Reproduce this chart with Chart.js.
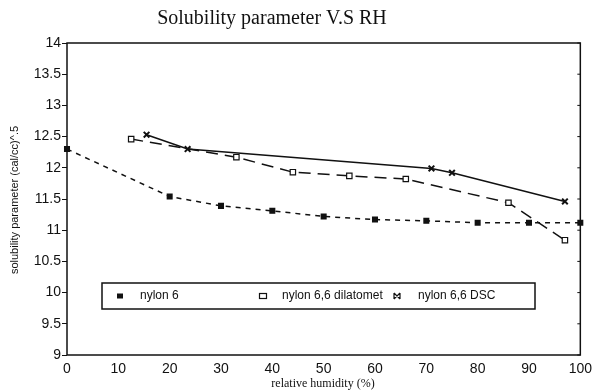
<!DOCTYPE html>
<html>
<head>
<meta charset="utf-8">
<script src="https://cdn.jsdelivr.net/npm/chart.js@4/dist/chart.umd.min.js"></script>
<style>
  html, body { margin: 0; padding: 0; background: #fff; }
  #wrap { width: 598px; height: 392px; }
</style>
</head>
<body>
<div id="wrap"><canvas id="solChart"></canvas></div>
<script>
// valores
const nylon6X = [0, 20, 30, 40, 50, 60, 70, 80, 90, 100];
const nylon6Y = [12.30, 11.54, 11.39, 11.31, 11.22, 11.17, 11.15, 11.12, 11.12, 11.12];

const dilatX = [12.5, 33, 44, 55, 66, 86, 97];
const dilatY = [12.46, 12.17, 11.93, 11.87, 11.82, 11.44, 10.84];

const dscX = [15.5, 23.5, 71, 75, 97];
const dscY = [12.53, 12.30, 11.99, 11.92, 11.46];

const yTicks = [9, 9.5, 10, 10.5, 11, 11.5, 12, 12.5, 13, 13.5, 14];
const xTicks = [0, 10, 20, 30, 40, 50, 60, 70, 80, 90, 100];

const ink = '#111111';
const sans = "'Liberation Sans', Arial, sans-serif";
const serif = "'Liberation Serif', 'Times New Roman', serif";

function pts(xs, ys) {
    return xs.map((x, i) => ({ x: x, y: ys[i] }));
}

// marco, título, etiquetas de ejes y leyenda dibujados a mano
const extras = {
    id: 'extras',
    afterDraw(chart) {
        const c = chart.ctx;
        const a = chart.chartArea;
        const ys = chart.scales.y;
        c.save();
        c.strokeStyle = ink;
        c.lineWidth = 1.5;
        c.strokeRect(a.left, a.top, a.right - a.left, a.bottom - a.top);

        // marcas pequeñas en el lado derecho
        c.lineWidth = 1;
        yTicks.forEach(v => {
            const py = ys.getPixelForValue(v);
            c.beginPath();
            c.moveTo(a.right, py);
            c.lineTo(a.right - 3, py);
            c.stroke();
        });

        c.fillStyle = ink;
        c.textAlign = 'center';
        c.textBaseline = 'middle';
        c.font = '20px ' + serif;
        c.fillText('Solubility parameter V.S RH', 272, 19);

        c.font = '12px ' + serif;
        c.fillText('relative humidity (%)', 323, 384);

        c.save();
        c.translate(15, 200);
        c.rotate(-Math.PI / 2);
        c.font = '11px ' + sans;
        c.fillText('solubility parameter (cal/cc)^.5', 0, 0);
        c.restore();

        // leyenda
        c.lineWidth = 1.5;
        c.strokeRect(102, 283, 433, 26);
        const marks = [120, 263, 397];
        const texts = [140, 282, 418];
        c.font = '12px ' + sans;
        c.textAlign = 'left';
        chart.data.datasets.forEach((ds, i) => {
            const mx = marks[i], my = 296;
            c.lineWidth = 1.2;
            if (i === 0) {
                c.fillRect(mx - 3, my - 2.5, 6, 5);
            } else if (i === 1) {
                c.strokeRect(mx - 3.5, my - 2.5, 7, 5);
            } else {
                c.beginPath();
                c.moveTo(mx - 3, my - 3); c.lineTo(mx + 3, my + 3);
                c.moveTo(mx - 3, my + 3); c.lineTo(mx + 3, my - 3);
                c.moveTo(mx - 3, my - 3); c.lineTo(mx - 3, my + 3);
                c.moveTo(mx + 3, my - 3); c.lineTo(mx + 3, my + 3);
                c.stroke();
            }
            c.fillText(ds.label, texts[i], my);
        });
        c.restore();
    }
};

new Chart(document.getElementById('solChart'), {
    type: 'scatter',
    data: {
        datasets: [{
            label: 'nylon 6',
            data: pts(nylon6X, nylon6Y),
            showLine: true,
            borderColor: ink,
            borderWidth: 1.5,
            borderDash: [5, 5],
            pointStyle: 'rect',
            pointRadius: 3.2,
            pointBackgroundColor: ink,
            pointBorderColor: ink,
            clip: false
        }, {
            label: 'nylon 6,6 dilatomet',
            data: pts(dilatX, dilatY),
            showLine: true,
            borderColor: ink,
            borderWidth: 1.5,
            borderDash: [12, 7],
            pointStyle: 'rect',
            pointRadius: 3.8,
            pointBackgroundColor: '#ffffff',
            pointBorderColor: ink,
            pointBorderWidth: 1.2,
            clip: false
        }, {
            label: 'nylon 6,6 DSC',
            data: pts(dscX, dscY),
            showLine: true,
            borderColor: ink,
            borderWidth: 1.5,
            pointStyle: 'crossRot',
            pointRadius: 4,
            pointBorderColor: ink,
            pointBorderWidth: 2,
            clip: false
        }]
    },
    options: {
        responsive: true,
        maintainAspectRatio: false,
        animation: false,
        layout: { padding: { left: 0, top: 43, right: 14, bottom: 0 } },
        plugins: {
            legend: { display: false },
            title: { display: false },
            tooltip: { enabled: false }
        },
        scales: {
            x: {
                type: 'linear',
                min: 0,
                max: 100,
                afterFit: s => { s.height = 37; },
                afterBuildTicks: s => { s.ticks = xTicks.map(v => ({ value: v })); },
                grid: { display: false, drawTicks: false },
                border: { display: false },
                ticks: {
                    color: ink,
                    padding: 6,
                    maxRotation: 0,
                    font: { family: sans, size: 14 },
                    callback: v => String(v)
                }
            },
            y: {
                min: 9,
                max: 14,
                afterFit: s => { s.width = 67; },
                afterBuildTicks: s => { s.ticks = yTicks.map(v => ({ value: v })); },
                grid: {
                    drawOnChartArea: false,
                    tickLength: 5,
                    color: ink,
                    lineWidth: 1
                },
                border: { display: false },
                ticks: {
                    color: ink,
                    padding: 1,
                    font: { family: sans, size: 14 },
                    callback: v => String(v)
                }
            }
        }
    },
    plugins: [extras]
});
</script>
</body>
</html>
